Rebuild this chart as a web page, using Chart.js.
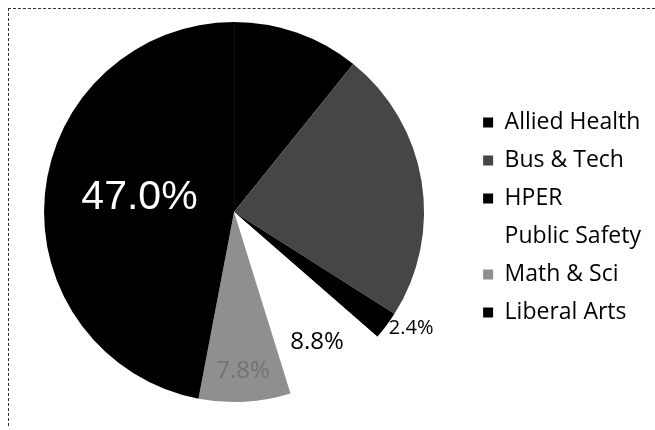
<!DOCTYPE html>
<html>
<head>
<meta charset="utf-8">
<script src="https://cdn.jsdelivr.net/npm/chart.js@4.4.1/dist/chart.umd.min.js"></script>
<style>
  html, body { margin: 0; padding: 0; background: #fff; }
  #wrap { position: relative; width: 655px; height: 430px; }
  #frame { position: absolute; left: 8px; top: 8px; right: 0; bottom: 4px;
           border-top: 1px dashed #333; border-left: 1px dashed #333; pointer-events: none; }
  canvas { position: absolute; left: 0; top: 0; }
</style>
</head>
<body>
<div id="wrap">
  <canvas id="pie" width="655" height="430"></canvas>
  <div id="frame"></div>
</div>
<script>
const categories = ['Allied Health', 'Bus & Tech', 'HPER', 'Public Safety', 'Math & Sci', 'Liberal Arts'];
const shares = [10.8, 23.2, 2.4, 8.8, 7.8, 47.0];
const sliceColors = ['#000000', '#464646', '#000000', '#ffffff', '#8f8f8f', '#000000'];
const shownLabels = ['', '', '2.4%', '8.8%', '7.8%', '47.0%'];

// where each percentage sits: fraction of radius, or 'out' for outside the rim
const labelStyle = [
  null,
  null,
  { pos: 'out', dy: 1, font: '20px "Open Sans"', color: '#000' },
  { pos: 0.8, dy: 3, font: '24px "Open Sans"', color: '#000' },
  { pos: 0.84, dy: 0, font: '24px "Open Sans"', color: '#727272' },
  { pos: 0.5, dy: -5, font: '41px "Liberation Sans"', color: '#fff' }
];

const sliceLabels = {
  id: 'sliceLabels',
  afterDatasetsDraw(chart) {
    const ctx = chart.ctx;
    const arcs = chart.getDatasetMeta(0).data;
    ctx.save();
    ctx.textBaseline = 'middle';
    arcs.forEach((arc, i) => {
      const st = labelStyle[i];
      if (!st || !shownLabels[i]) return;
      const p = arc.getProps(['x', 'y', 'startAngle', 'endAngle', 'outerRadius'], true);
      const mid = (p.startAngle + p.endAngle) / 2;
      ctx.font = st.font;
      ctx.fillStyle = st.color;
      let d;
      if (st.pos === 'out') {
        d = p.outerRadius + 3;
        ctx.textAlign = 'left';
      } else {
        d = p.outerRadius * st.pos;
        ctx.textAlign = 'center';
      }
      ctx.fillText(shownLabels[i], p.x + Math.cos(mid) * d, p.y + Math.sin(mid) * d + st.dy);
    });
    ctx.restore();
  }
};

new Chart(document.getElementById('pie'), {
  type: 'pie',
  data: {
    labels: categories,
    datasets: [{
      data: shares,
      backgroundColor: sliceColors,
      borderWidth: 0
    }]
  },
  options: {
    responsive: false,
    animation: false,
    layout: { padding: { top: 22, bottom: 28, left: 0, right: 4 } },
    plugins: {
      tooltip: { enabled: false },
      legend: {
        position: 'right',
        title: { display: true, text: ' ', padding: 0, font: { size: 11, lineHeight: 1 } },
        labels: {
          boxWidth: 10,
          boxHeight: 10,
          padding: 15,
          color: '#000',
          font: { family: '"Open Sans"', size: 23 }
        }
      }
    }
  },
  plugins: [sliceLabels]
});
</script>
</body>
</html>
